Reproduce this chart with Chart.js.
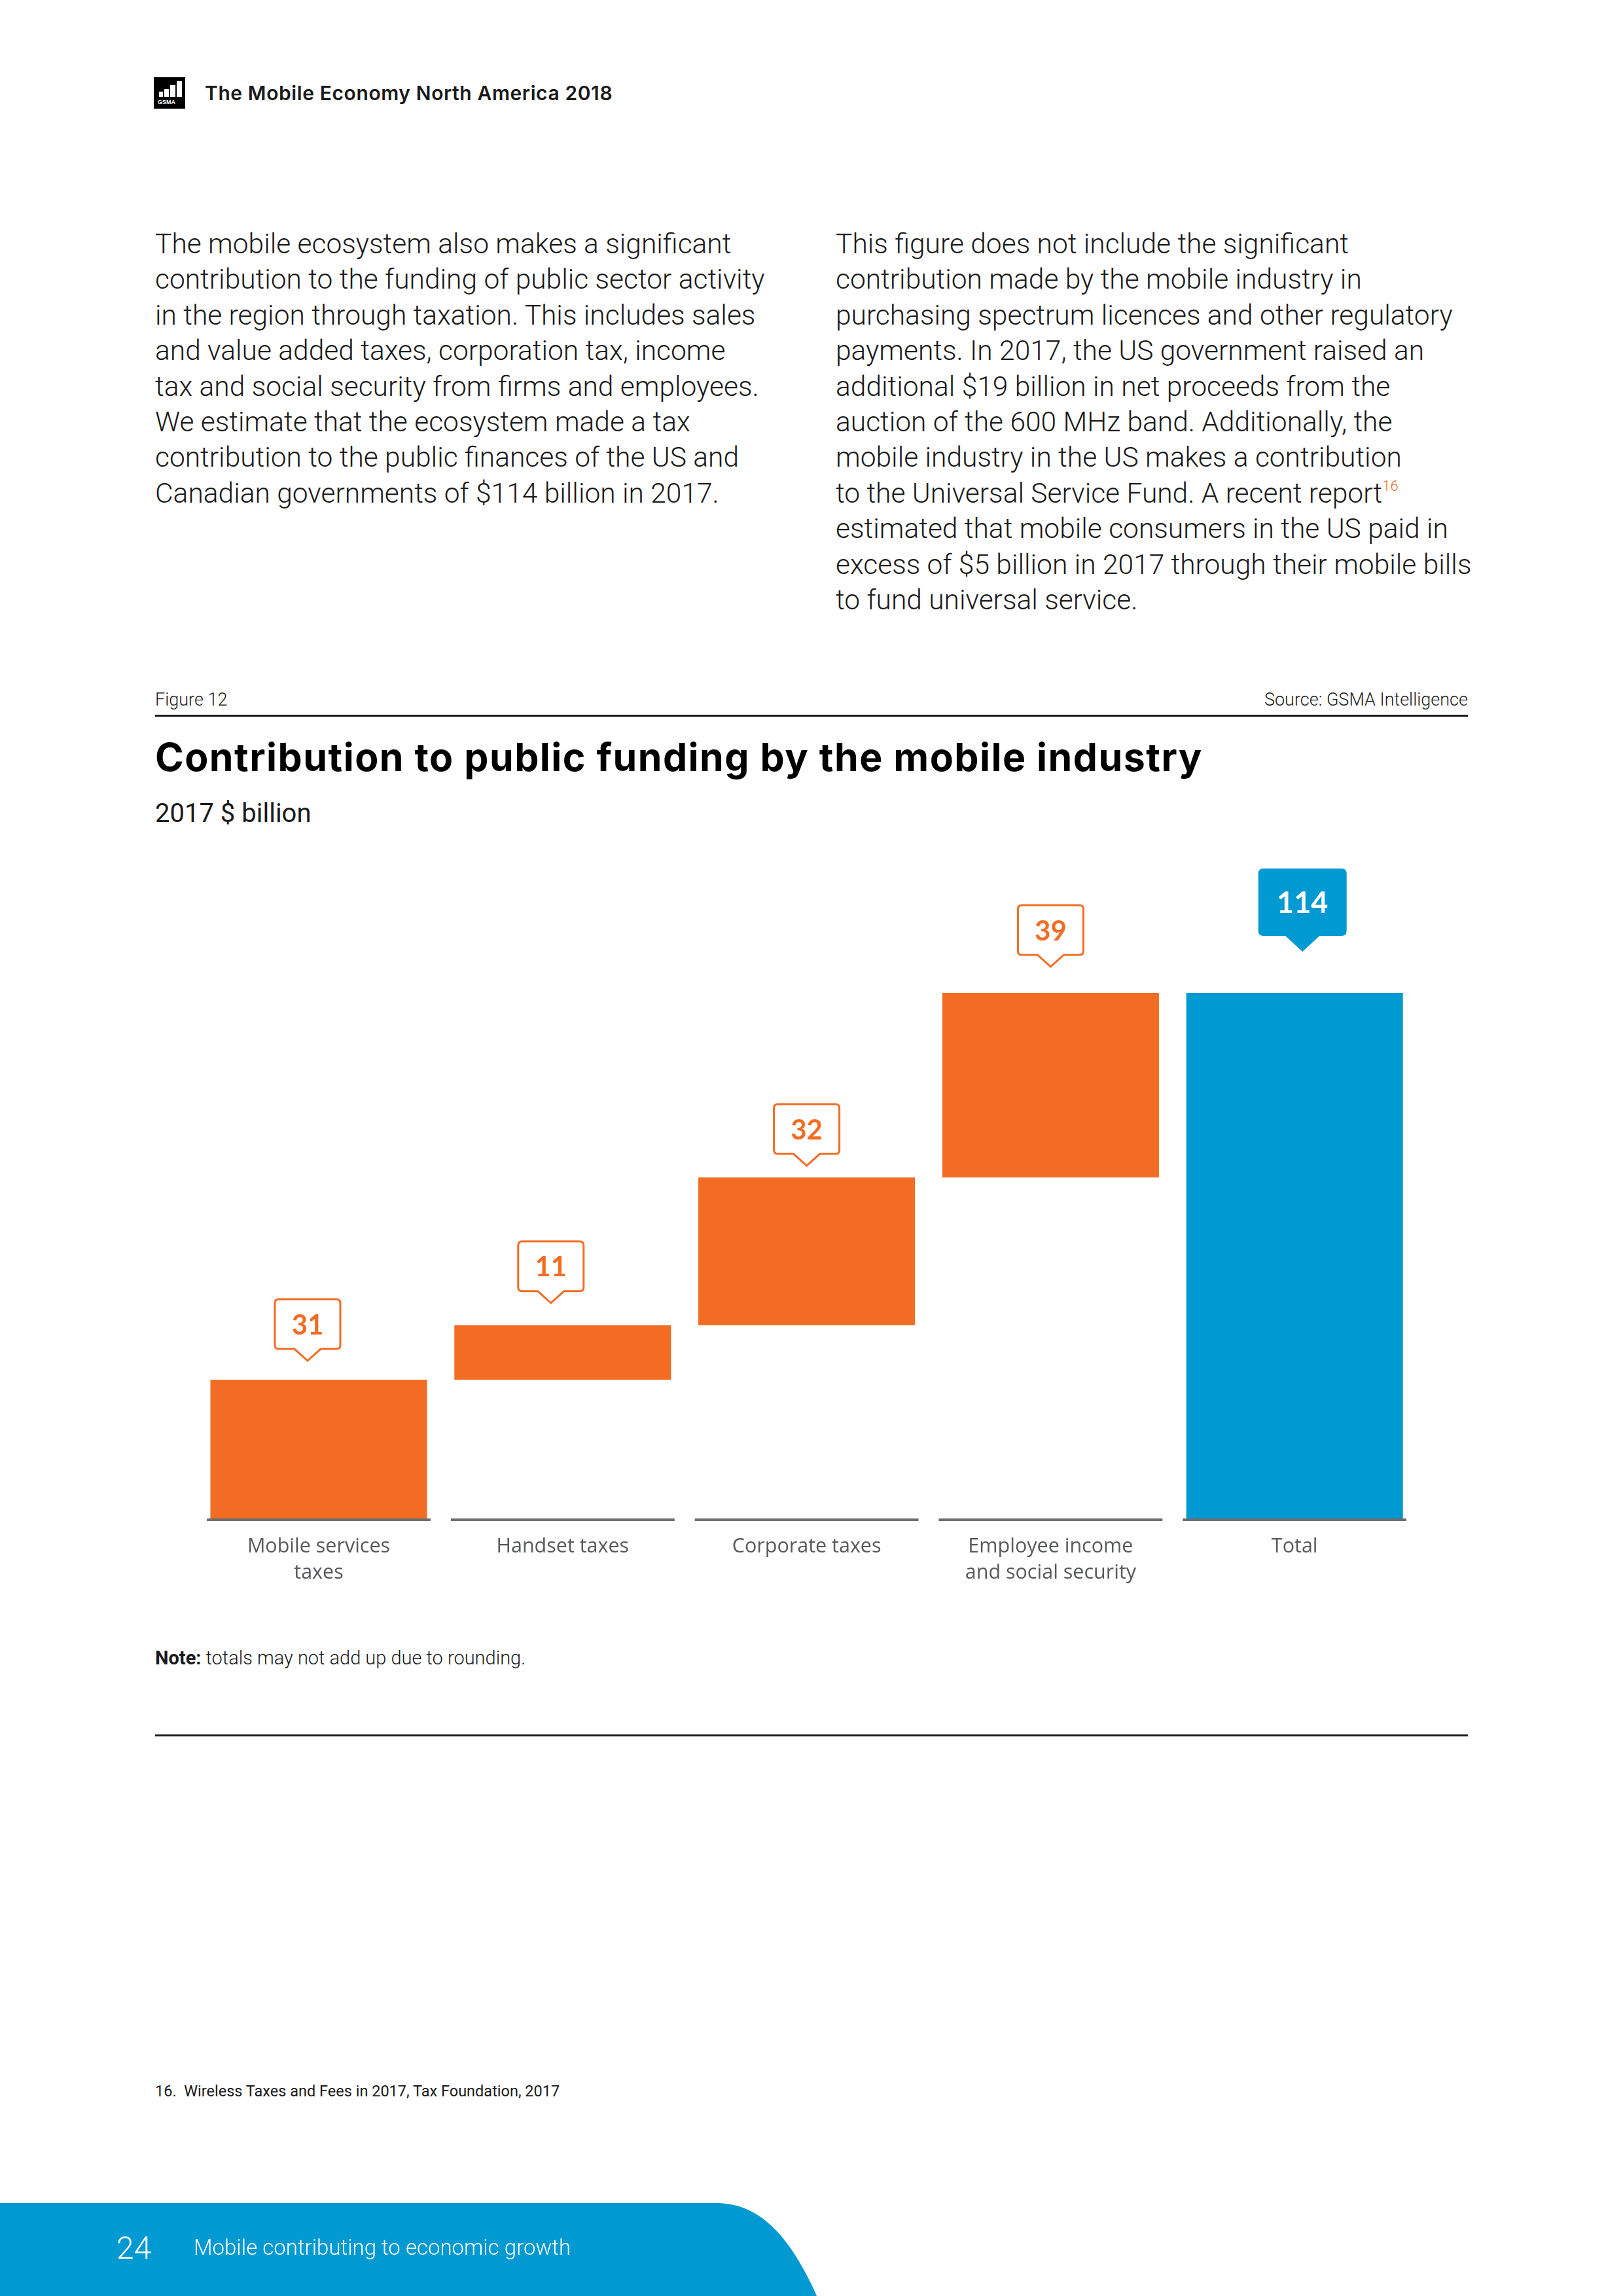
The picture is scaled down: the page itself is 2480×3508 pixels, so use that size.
<!DOCTYPE html>
<html>
<head>
<meta charset="utf-8">
<script src="https://cdn.jsdelivr.net/npm/chart.js@4.4.0/dist/chart.umd.min.js"></script>
<style>
  html, body { margin: 0; padding: 0; background: #fff; }
  body { width: 2480px; height: 3508px; position: relative; overflow: hidden; font-family: Roboto, sans-serif; color: #1a1a1a; }
  .abs { position: absolute; white-space: pre; }
  .body-text { font-size: 42.5px; font-weight: 300; line-height: 54.4px; color: #1a1a1a; }
  .rule { position: absolute; left: 237px; width: 2006px; height: 3px; background: #1a1a1a; }
  sup { font-size: 22px; color: #f26c23; vertical-align: 18px; line-height: 0; }
  #chart-box { position: absolute; left: 237px; top: 1290px; width: 2006px; height: 1161px; }
  #chart-box canvas { display: block; }
</style>
</head>
<body>

<!-- header -->
<div class="abs" style="left:235px; top:118px; width:48px; height:48px; background:#000;">
  <div class="abs" style="left:8px; top:22px; width:6px; height:8px; background:#fff;"></div>
  <div class="abs" style="left:16px; top:18px; width:7px; height:12px; background:#fff;"></div>
  <div class="abs" style="left:25px; top:12px; width:8px; height:18px; background:#fff;"></div>
  <div class="abs" style="left:35px; top:6px; width:8px; height:24px; background:#fff;"></div>
  <div class="abs" style="left:6px; top:33px; font: 700 9px Arial, sans-serif; color:#fff;">GSMA</div>
</div>
<div class="abs" style="left:313px; top:125px; font: 600 30px Inter, sans-serif; letter-spacing:0.6px; line-height:34px;">The Mobile Economy North America 2018</div>

<!-- body columns -->
<div class="abs body-text" style="left:237px; top:346px;">The mobile ecosystem also makes a significant
contribution to the funding of public sector activity
in the region through taxation. This includes sales
and value added taxes, corporation tax, income
tax and social security from firms and employees.
We estimate that the ecosystem made a tax
contribution to the public finances of the US and
Canadian governments of $114 billion in 2017.</div>

<div class="abs body-text" style="left:1277px; top:346px;">This figure does not include the significant
contribution made by the mobile industry in
purchasing spectrum licences and other regulatory
payments. In 2017, the US government raised an
additional $19 billion in net proceeds from the
auction of the 600 MHz band. Additionally, the
mobile industry in the US makes a contribution
to the Universal Service Fund. A recent report<sup>16</sup>
estimated that mobile consumers in the US paid in
excess of $5 billion in 2017 through their mobile bills
to fund universal service.</div>

<!-- figure header -->
<div class="abs" style="left:237px; top:1053px; font: 300 27px Roboto, sans-serif; line-height:32px;">Figure 12</div>
<div class="abs" style="right:237px; top:1053px; font: 300 27px Roboto, sans-serif; line-height:32px;">Source: GSMA Intelligence</div>
<div class="rule" style="top:1092px;"></div>
<div class="abs" style="left:237px; top:1123px; font: 700 59px Inter, sans-serif; letter-spacing:1.5px; line-height:68px; color:#000;">Contribution to public funding by the mobile industry</div>
<div class="abs" style="left:237px; top:1221px; font: 400 40px Roboto, sans-serif; line-height:44px;">2017 $ billion</div>

<!-- chart -->
<div id="chart-box"><canvas id="bar-chart-funding" width="2006" height="1161"></canvas></div>

<div class="abs" style="left:237px; top:2516px; font: 300 29px Roboto, sans-serif; line-height:34px;"><b style="font-weight:700;">Note:</b> totals may not add up due to rounding.</div>
<div class="rule" style="top:2650px;"></div>

<!-- footnote & footer -->
<div class="abs" style="left:237px; top:3181px; font: 400 23.5px Roboto, sans-serif; line-height:28px;">16.  Wireless Taxes and Fees in 2017, Tax Foundation, 2017</div>
<svg class="abs" style="left:0; top:0;" width="2480" height="3508">
  <path d="M0 3366 L1094 3366 C1150 3366 1200 3400 1248 3508 L0 3508 Z" fill="#0099d1"/>
</svg>
<div class="abs" style="left:178px; top:3408px; font: 300 48px Roboto, sans-serif; line-height:54px; color:#fff;">24</div>
<div class="abs" style="left:296px; top:3415px; font: 300 33px Roboto, sans-serif; line-height:38px; color:#fff;">Mobile contributing to economic growth</div>

<script>
// categories and values ($ billion, 2017)
const categories = [
  ["Mobile services", "taxes"],
  "Handset taxes",
  "Corporate taxes",
  ["Employee income", "and social security"],
  "Total"
];
// waterfall bars: where each bar starts and ends on the value axis
const barStart = [0, 30.2, 42, 74, 0];
const barEnd = [30.2, 42, 74, 114, 114];
// numbers printed in the callouts
const calloutLabels = ["31", "11", "32", "39", "114"];
const totalIndex = 4;

// callout placement tweaks (px): sideways shift and gap above the bar
const calloutShift = [-17, -18, 0, 0, 12];
const calloutGap = [29, 34, 18, 40, 63];

const ORANGE = "#f26c23";
const BLUE = "#0099d1";

// rounded callout box with a little pointer underneath
function drawCallout(ctx, cx, tipY, text, filled) {
  const w = filled ? 135 : 100;
  const h = filled ? 103 : 76;
  const pw = filled ? 52 : 40;
  const ph = filled ? 24 : 18;
  const r = filled ? 8 : 6;
  const bottom = tipY - ph;
  const top = bottom - h;
  const left = cx - w / 2;
  const right = cx + w / 2;

  ctx.save();
  ctx.beginPath();
  ctx.moveTo(left + r, top);
  ctx.lineTo(right - r, top);
  ctx.quadraticCurveTo(right, top, right, top + r);
  ctx.lineTo(right, bottom - r);
  ctx.quadraticCurveTo(right, bottom, right - r, bottom);
  ctx.lineTo(cx + pw / 2, bottom);
  ctx.lineTo(cx, tipY);
  ctx.lineTo(cx - pw / 2, bottom);
  ctx.lineTo(left + r, bottom);
  ctx.quadraticCurveTo(left, bottom, left, bottom - r);
  ctx.lineTo(left, top + r);
  ctx.quadraticCurveTo(left, top, left + r, top);
  ctx.closePath();
  if (filled) {
    ctx.fillStyle = BLUE;
    ctx.fill();
  } else {
    ctx.fillStyle = "#fff";
    ctx.fill();
    ctx.lineWidth = 3;
    ctx.strokeStyle = ORANGE;
    ctx.stroke();
  }
  ctx.fillStyle = filled ? "#fff" : ORANGE;
  ctx.font = (filled ? "700 45px" : "700 42px") + " Lato, sans-serif";
  ctx.textAlign = "center";
  ctx.textBaseline = "middle";
  ctx.fillText(text, cx, top + h / 2 + 2);
  ctx.restore();
}

const waterfallDecor = {
  id: "waterfallDecor",
  afterDatasetsDraw(chart) {
    const ctx = chart.ctx;
    const xScale = chart.scales.x;
    const area = chart.chartArea;
    const half = xScale.width / categories.length * 0.917 / 2;

    // split baseline, one segment per category
    ctx.save();
    ctx.fillStyle = "#6d6e71";
    categories.forEach((c, i) => {
      const x = xScale.getPixelForValue(i);
      ctx.fillRect(x - half, area.bottom - 1, half * 2, 4);
    });
    ctx.restore();

    // callouts above each bar
    const meta = chart.getDatasetMeta(0);
    meta.data.forEach((bar, i) => {
      drawCallout(ctx, bar.x + calloutShift[i], bar.y - calloutGap[i], calloutLabels[i], i === totalIndex);
    });
  }
};

const config = {
  type: "bar",
  data: {
    labels: categories,
    datasets: [{
      data: barStart.map((s, i) => [s, barEnd[i]]),
      backgroundColor: categories.map((c, i) => i === totalIndex ? BLUE : ORANGE),
      borderWidth: 0,
      barPercentage: 0.888,
      categoryPercentage: 1.0
    }]
  },
  options: {
    responsive: false,
    animation: false,
    devicePixelRatio: 1,
    layout: {
      padding: { top: 227, left: 63.6, right: 78.4, bottom: 0 }
    },
    plugins: {
      legend: { display: false },
      tooltip: { enabled: false }
    },
    scales: {
      x: {
        grid: { display: false },
        border: { display: false },
        ticks: {
          color: "#58595b",
          padding: 14,
          maxRotation: 0,
          autoSkip: false,
          font: { family: "'Open Sans', sans-serif", size: 30.5, lineHeight: "40px" }
        },
        afterFit: (scale) => { scale.height = 130; }
      },
      y: {
        display: false,
        min: 0,
        max: 114
      }
    }
  },
  plugins: [waterfallDecor]
};

const ctx = document.getElementById("bar-chart-funding").getContext("2d");
window.fundingChart = new Chart(ctx, config);
</script>
</body>
</html>
